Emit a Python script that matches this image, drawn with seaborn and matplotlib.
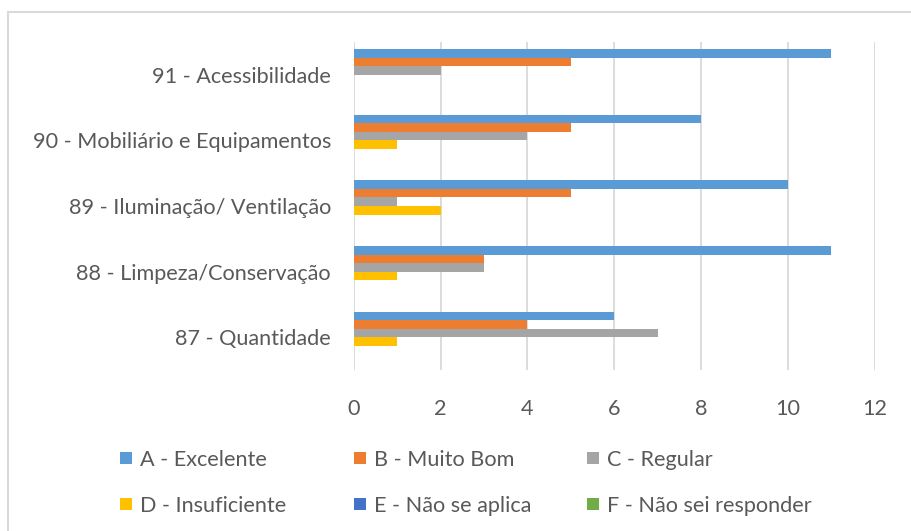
import matplotlib
matplotlib.use("Agg")
import matplotlib.pyplot as plt
from matplotlib.lines import Line2D
import seaborn as sns
import pandas as pd

categories = [
    "91 - Acessibilidade",
    "90 - Mobiliário e Equipamentos",
    "89 - Iluminação/ Ventilação",
    "88 - Limpeza/Conservação",
    "87 - Quantidade",
]
series = [
    "A - Excelente",
    "B - Muito Bom",
    "C - Regular",
    "D - Insuficiente",
    "E - Não se aplica",
    "F - Não sei responder",
]
a_excelente = [11, 8, 10, 11, 6]
b_muito_bom = [5, 5, 5, 3, 4]
c_regular = [2, 4, 1, 3, 7]
d_insuficiente = [0, 1, 2, 1, 1]
e_nao_se_aplica = [0, 0, 0, 0, 0]
f_nao_sei = [0, 0, 0, 0, 0]
colors = ["#5B9BD5", "#ED7D31", "#A5A5A5", "#FFC000", "#4472C4", "#70AD47"]
x_ticks = [0, 2, 4, 6, 8, 10, 12]

values = [a_excelente, b_muito_bom, c_regular, d_insuficiente, e_nao_se_aplica, f_nao_sei]
rows = []
for s, vals in zip(series, values):
    for c, v in zip(categories, vals):
        rows.append({"categoria": c, "serie": s, "valor": v})
df = pd.DataFrame(rows)

sns.set_theme(style="white")
plt.rcParams["font.family"] = ["Lato", "DejaVu Sans"]
text_color = "#595959"
fs = 15.6

fig = plt.figure(figsize=(9.12, 5.31), dpi=100)
ax = fig.add_axes([0.388, 0.303, 0.571, 0.618])

sns.barplot(
    data=df, y="categoria", x="valor", hue="serie",
    order=categories, hue_order=series, palette=colors,
    orient="h", width=0.78, linewidth=0, saturation=1,
    legend=False, ax=ax,
)

ax.set_xlim(0, 12)
ax.set_xticks(x_ticks)
ax.set_xticklabels([str(t) for t in x_ticks])
ax.set_xlabel("")
ax.set_ylabel("")
ax.grid(axis="x", color="#D9D9D9", linewidth=1.3)
ax.grid(axis="y", visible=False)
ax.set_axisbelow(True)
for sp in ax.spines.values():
    sp.set_visible(False)
ax.tick_params(axis="x", length=0, pad=21, labelsize=fs, labelcolor=text_color)
ax.tick_params(axis="y", length=0, pad=16.5, labelsize=fs, labelcolor=text_color)

# legend: three columns of two entries, laid out row by row, square swatches
handles = [
    Line2D([], [], marker="s", linestyle="", markersize=8.5,
           markerfacecolor=c, markeredgewidth=0, label=s)
    for c, s in zip(colors, series)
]
col_x = [120, 354, 587]
for i, x0 in enumerate(col_x):
    leg = fig.legend(
        handles=[handles[i], handles[i + 3]], loc="center left",
        bbox_to_anchor=(x0 / 912, 1 - 483 / 531), frameon=False,
        fontsize=fs, handlelength=0.55,
        handletextpad=0.38, labelspacing=1.2,
        borderaxespad=0, borderpad=0,
    )
    for t in leg.get_texts():
        t.set_color(text_color)

# chart frame: only the top and left edges fall inside the image
fig.add_artist(plt.Line2D([0.0088, 0.0088], [0, 1 - 12 / 531], color="#D9D9D9", lw=1.5, transform=fig.transFigure))
fig.add_artist(plt.Line2D([0.0088, 1], [1 - 12 / 531, 1 - 12 / 531], color="#D9D9D9", lw=1.5, transform=fig.transFigure))

fig.savefig("out.png", dpi=100, facecolor="white")
